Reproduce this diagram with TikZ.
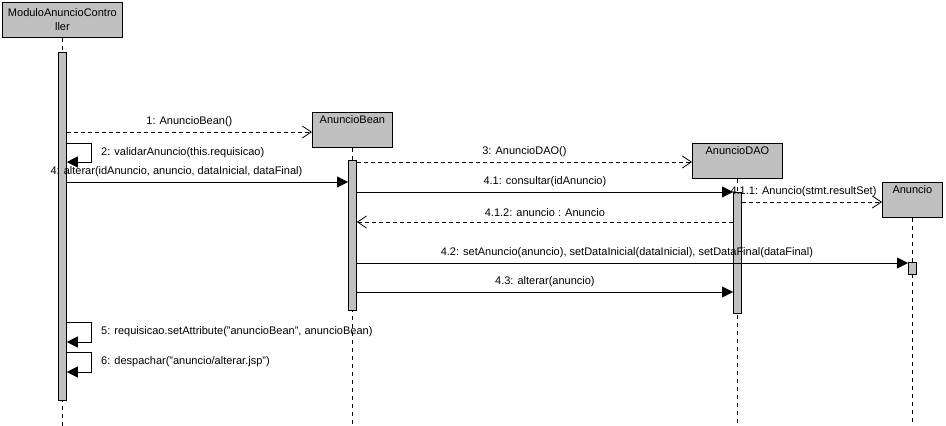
\documentclass[tikz,border=0pt]{standalone}
\usepackage{fontspec}
\setmainfont{Liberation Sans}
\usetikzlibrary{arrows.meta}
\definecolor{boxgray}{RGB}{192,192,192}
\begin{document}
\begin{tikzpicture}[x=1pt,y=-1pt,font=\fontsize{11}{14}\selectfont,line width=0.8pt,
        lifebox/.style={draw,fill=boxgray,inner sep=0pt,minimum height=35pt,anchor=north west},
        toptext/.style={text height=8pt,text depth=21pt,inner sep=3pt},
        lifeline/.style={dash pattern=on 4pt off 4pt},
        actbar/.style={draw,fill=boxgray,minimum width=8pt,inner sep=0pt,anchor=north},
        call/.style={-{Triangle[length=11pt,width=11pt]}},
        create/.style={dash pattern=on 4pt off 3pt,-{Straight Barb[length=9pt,width=12pt]}},
        lbl/.style={above=4pt,inner sep=1pt},
        selflbl/.style={anchor=west,xshift=8pt,inner sep=1pt}]
    \useasboundingbox (0,0) rectangle (946,426);
    % lifeline heads
    \node[lifebox,minimum width=120pt,align=center] (ctrl) at (2,2) {ModuloAnuncioContro\\ller};
    \node[lifebox,toptext,minimum width=80pt] (bean) at (312,112) {AnuncioBean};
    \node[lifebox,toptext,minimum width=90pt] (dao) at (692,143) {AnuncioDAO};
    \node[lifebox,toptext,minimum width=60pt] (anun) at (882,182) {Anuncio};
    \draw[lifeline] (ctrl.south) -- (ctrl.south |- 0,426);
    \draw[lifeline] (bean.south) -- (bean.south |- 0,426);
    \draw[lifeline] (dao.south) -- (dao.south |- 0,426);
    \draw[lifeline] (anun.south) -- (anun.south |- 0,426);
    % activations
    \node[actbar,minimum height=348pt] (actC) at (ctrl.south |- 0,52) {};
    \node[actbar,minimum height=150pt] (actB) at (bean.south |- 0,160) {};
    \node[actbar,minimum height=121pt] (actD) at (dao.south |- 0,192) {};
    \node[actbar,minimum height=12pt] (actA) at (anun.south |- 0,262) {};
    % messages
    \draw[create] (actC.east |- 0,132) -- (bean.west |- 0,132) node[lbl,midway] {1: AnuncioBean()};
    \draw[call] (actC.east |- 0,143) -- ++(25,0) -- node[selflbl] {2: validarAnuncio(this.requisicao)} ++(0,19) -- (actC.east |- 0,162);
    \draw[create] (actB.east |- 0,162) -- (dao.west |- 0,162) node[lbl,midway] {3: AnuncioDAO()};
    \draw[call] (actC.east |- 0,182) -- (actB.west |- 0,182) node[lbl,pos=.39] {4: alterar(idAnuncio, anuncio, dataInicial, dataFinal)};
    \draw[call] (actB.east |- 0,192) -- (actD.west |- 0,192) node[lbl,midway] {4.1: consultar(idAnuncio)};
    \draw[create] (actD.east |- 0,202) -- (anun.west |- 0,202) node[lbl,pos=.44] {4.1.1: Anuncio(stmt.resultSet)};
    \draw[create] (actD.west |- 0,222) -- (actB.east |- 0,222) node[lbl,midway] {4.1.2: anuncio : Anuncio};
    \draw[call] (actB.east |- 0,263) -- (actA.west |- 0,263) node[lbl,pos=.49] {4.2: setAnuncio(anuncio), setDataInicial(dataInicial), setDataFinal(dataFinal)};
    \draw[call] (actB.east |- 0,292) -- (actD.west |- 0,292) node[lbl,midway] {4.3: alterar(anuncio)};
    \draw[call] (actC.east |- 0,322) -- ++(25,0) -- node[selflbl] {5: requisicao.setAttribute("anuncioBean", anuncioBean)} ++(0,20) -- (actC.east |- 0,342);
    \draw[call] (actC.east |- 0,352) -- ++(25,0) -- node[selflbl] {6: despachar("anuncio/alterar.jsp")} ++(0,20) -- (actC.east |- 0,372);
\end{tikzpicture}
\end{document}
